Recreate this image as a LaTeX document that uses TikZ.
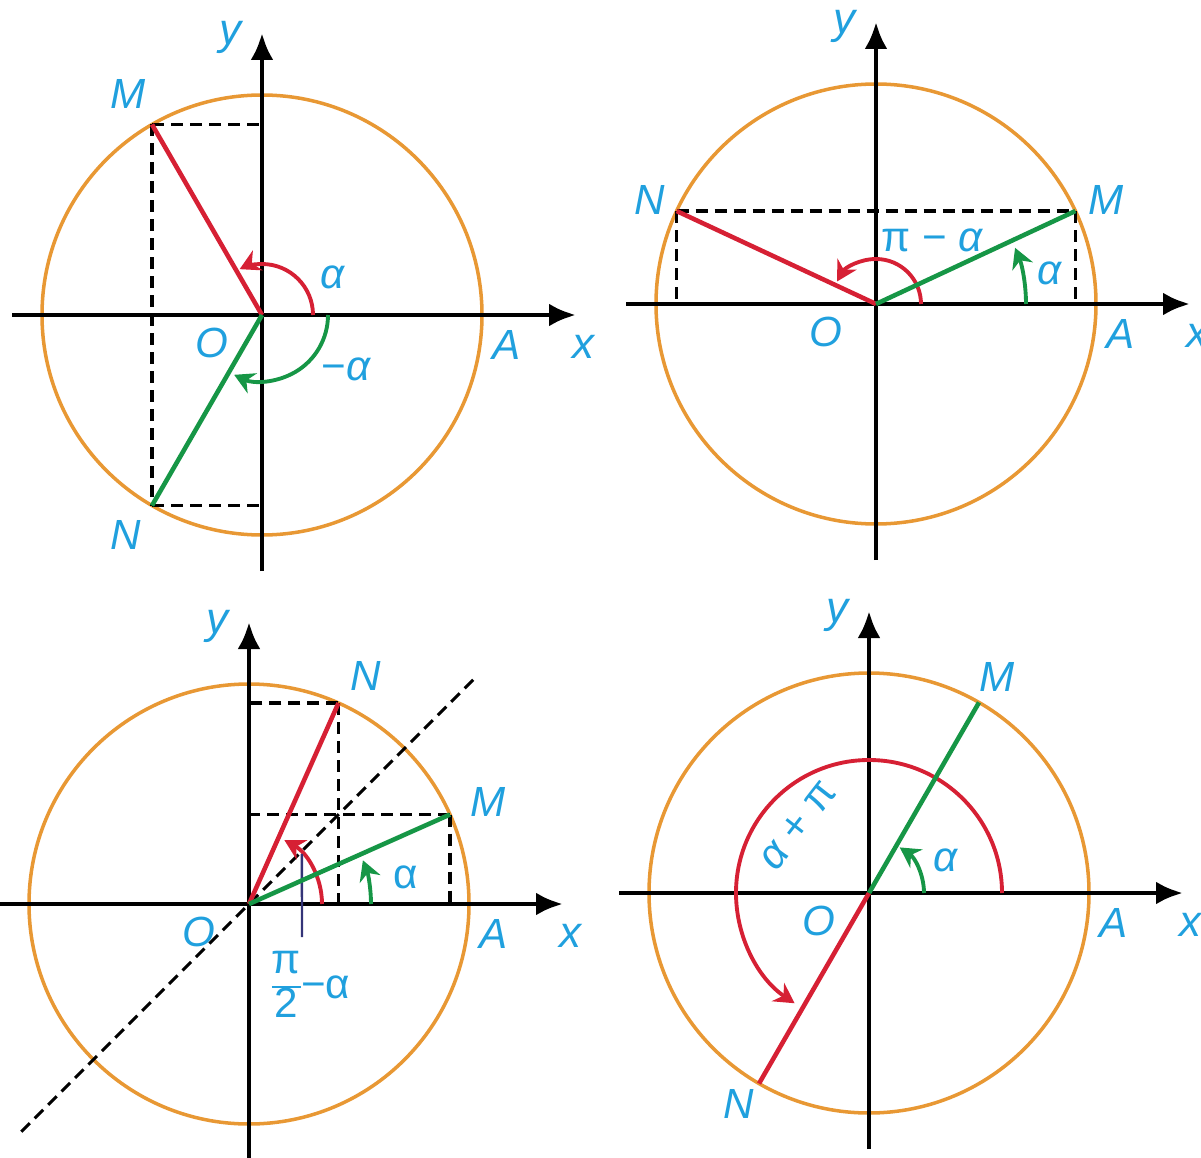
\documentclass[tikz,border=0pt]{standalone}
\usepackage{fontspec}
\setmainfont{Liberation Sans}
\usepackage{tikz}
\usetikzlibrary{arrows.meta, positioning, calc}
\definecolor{circorange}{RGB}{232,152,52}
\definecolor{rayred}{RGB}{214,32,52}
\definecolor{raygreen}{RGB}{22,150,70}
\definecolor{lblblue}{RGB}{32,160,222}
\definecolor{leadnavy}{RGB}{52,52,120}
\tikzset{
  unitcirc/.style={draw=circorange, line width=2pt},
  axisline/.style={line width=2.8pt, -{Latex[length=5.4mm, width=4.6mm]}},
  redray/.style={draw=rayred, line width=2.6pt},
  greenray/.style={draw=raygreen, line width=2.6pt},
  projline/.style={line width=1.8pt, dash pattern=on 2.4mm off 1.4mm},
  redarc/.style={draw=rayred, line width=2.2pt,
    -{Stealth[length=4mm, width=4.4mm]}},
  greenarc/.style={draw=raygreen, line width=2.2pt,
    -{Stealth[length=4mm, width=4.4mm]}},
  lbl/.style={text=lblblue, font=\fontsize{24}{28}\selectfont\itshape,
    inner sep=1pt},
  axlbl/.style={text=lblblue, font=\fontsize{25}{29}\selectfont\itshape,
    inner sep=1pt},
}
% stacked fraction in the label font
\newcommand{\halfpi}{%
  \begingroup\setlength{\arrayrulewidth}{1.2pt}%
  \renewcommand{\arraystretch}{0.85}%
  $\vcenter{\hbox{\begin{tabular}{@{}c@{}}π\\\hline 2\end{tabular}}}$%
  \endgroup}

\begin{document}
\begin{tikzpicture}[x=0.2mm, y=0.2mm]
  \useasboundingbox (0,0) rectangle (1201,-1158);

  % circle, axes and fixed labels of the four panels
  \foreach \i/\cx/\cy in {1/262/-315, 2/876/-304, 3/249/-904, 4/869/-893} {
    \begin{scope}[shift={(\cx,\cy)}]
      \coordinate (O\i) at (0,0);
      \coordinate (xs\i) at (-250,0);
      \coordinate (xe\i) at (314,0);
      \coordinate (ys\i) at (0,-256);
      \coordinate (ye\i) at (0,282);
      \draw[unitcirc] (O\i) circle[radius=220];
      \node[lbl] (lO\i) at (-50,-28) {O};
      \node[lbl] (lA\i) at (245,-30) {A};
      \node[axlbl] (lx\i) at (321,-32) {x};
      \node[axlbl] (ly\i) at (-32,278) {y};
    \end{scope}
  }

  % panel 1: M and N symmetric about Ox
  \begin{scope}[shift={(262,-315)}]
    \coordinate (M1) at (120:220);
    \coordinate (N1) at (240:220);
    \draw[projline] (M1) -- (O1 |- M1);
    \draw[projline] (M1) -- (N1);
    \draw[projline] (N1) -- (O1 |- N1);
    \draw[axisline] (xs1) -- (xe1);
    \draw[axisline] (ys1) -- (ye1);
    \draw[redarc] ([shift={(0:51)}]O1) arc[start angle=0, end angle=116, radius=51];
    \draw[greenarc] ([shift={(0:66)}]O1) arc[start angle=0, end angle=-115, radius=66];
    \draw[redray] (O1) -- (M1);
    \draw[greenray] (O1) -- (N1);
    \node[lbl] (lM1) at (-134,221) {M};
    \node[lbl] (lN1) at (-136,-220) {N};
    \node[lbl] (la1) at (71,38) {α};
    \node[lbl] (lma1) at (84,-54) {\upshape −\itshape α};
  \end{scope}

  % panel 2: M and N symmetric about Oy
  \begin{scope}[shift={(876,-304)}]
    \coordinate (M2) at (25:220);
    \coordinate (N2) at (155:220);
    \draw[projline] (N2) -- (M2);
    \draw[projline] (N2) -- (N2 |- O2);
    \draw[projline] (M2) -- (M2 |- O2);
    \draw[axisline] (xs2) -- (xe2);
    \draw[axisline] (ys2) -- (ye2);
    \draw[redarc] ([shift={(0:45)}]O2) arc[start angle=0, end angle=150, radius=45];
    \draw[greenarc] ([shift={(0:150)}]O2) arc[start angle=0, end angle=22, radius=150];
    \draw[redray] (O2) -- (N2);
    \draw[greenray] (O2) -- (M2);
    \node[lbl] (lN2) at (-226,104) {N};
    \node[lbl] (lM2) at (230,104) {M};
    \node[lbl] (lpa2) at (56,64) {\upshape π − \itshape α};
    \node[lbl] (la2) at (174,31) {α};
  \end{scope}

  % panel 3: M and N symmetric about y = x
  \begin{scope}[shift={(249,-904)}]
    \coordinate (M3) at (24:220);
    \coordinate (N3) at (66:220);
    \coordinate (D1) at (225:322);
    \coordinate (D2) at (45:322);
    \coordinate (L1) at (43.5:73);
    \coordinate (L2) at (53,-33);
    \draw[projline] (D1) -- (D2);
    \draw[projline] (N3) -- (O3 |- N3);
    \draw[projline] (N3) -- (N3 |- O3);
    \draw[projline] (M3) -- (O3 |- M3);
    \draw[projline] (M3) -- (M3 |- O3);
    \draw[axisline] (xs3) -- (xe3);
    \draw[axisline] (ys3) -- (ye3);
    \draw[redarc] ([shift={(0:73)}]O3) arc[start angle=0, end angle=61, radius=73];
    \draw[greenarc] ([shift={(0:122)}]O3) arc[start angle=0, end angle=21, radius=122];
    \draw[leadnavy, line width=1.4pt] (L1) -- (L2);
    \draw[redray] (O3) -- (N3);
    \draw[greenray] (O3) -- (M3);
    \node[lbl] (lN3) at (117,228) {N};
    \node[lbl] (lM3) at (239,102) {M};
    \node[lbl] (la3) at (157,27) {\upshape α};
    \node[lbl, anchor=north] (lpa3) at (62,-38) {\upshape\halfpi−α};
  \end{scope}

  % panel 4: M and N symmetric about O
  \begin{scope}[shift={(869,-893)}]
    \coordinate (M4) at (60:220);
    \coordinate (N4) at (240:220);
    \draw[axisline] (xs4) -- (xe4);
    \draw[axisline] (ys4) -- (ye4);
    \draw[redarc] ([shift={(0:133)}]O4) arc[start angle=0, end angle=236, radius=133];
    \draw[greenarc] ([shift={(0:55)}]O4) arc[start angle=0, end angle=56, radius=55];
    \draw[redray] (O4) -- (N4);
    \draw[greenray] (O4) -- (M4);
    \node[lbl] (lM4) at (128,216) {M};
    \node[lbl] (lN4) at (-130,-211) {N};
    \node[lbl] (la4) at (77,33) {α};
    \node[lbl, rotate=52] (lap4) at (-71,68) {α \upshape+ π};
  \end{scope}
\end{tikzpicture}
\end{document}
